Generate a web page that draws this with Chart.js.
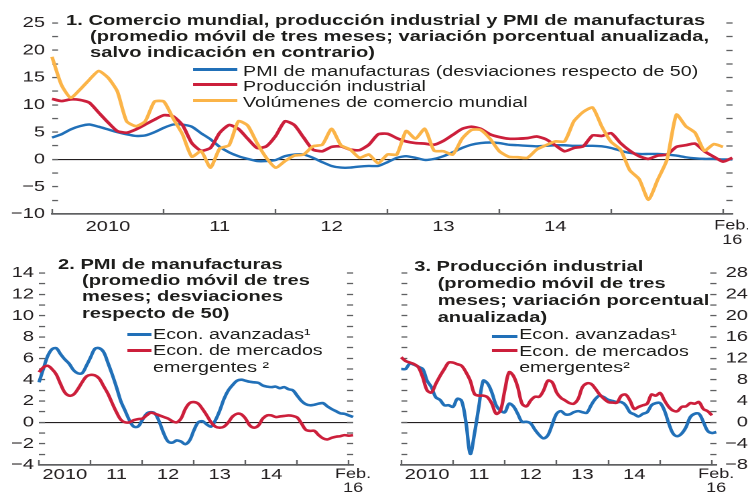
<!DOCTYPE html>
<html>
<head>
<meta charset="utf-8">
<script src="https://cdn.jsdelivr.net/npm/chart.js@4.4.1/dist/chart.umd.min.js"></script>
<style>
  html, body { margin: 0; padding: 0; background: #fff; }
  body { width: 748px; height: 496px; overflow: hidden; position: relative; }
  /* the reference is stretched sideways, so everything is laid out narrow and widened */
  #stage { position: absolute; left: 0; top: 0; width: 558px; height: 496px;
           transform: scaleX(1.3405); transform-origin: 0 0;
           font-family: "Liberation Sans", Arial, sans-serif; color: #1d1d1b; }
  canvas { position: absolute; }
  .t { position: absolute; white-space: nowrap; font-weight: bold; font-size: 15px; line-height: 16.35px; }
  .lg { position: absolute; white-space: nowrap; font-size: 14.7px; line-height: 16px; }
  .sw { position: absolute; height: 3px; }
</style>
</head>
<body>
<div id="stage">
  <canvas id="c1" width="558" height="250" style="left:0;top:0"></canvas>
  <canvas id="c2" width="279" height="256" style="left:0;top:240px"></canvas>
  <canvas id="c3" width="279" height="256" style="left:279px;top:240px"></canvas>

  <div class="t" style="left:49.3px;top:11.5px">1. Comercio mundial, producción industrial y PMI de manufacturas</div>
  <div class="t" style="left:67.2px;top:27.8px">(promedio móvil de tres meses; variación porcentual anualizada,</div>
  <div class="t" style="left:67.2px;top:44.1px">salvo indicación en contrario)</div>
  <div class="sw" style="left:144.3px;top:67.5px;width:32.3px;background:#2170b8"></div>
  <div class="sw" style="left:144.3px;top:83px;width:32.3px;background:#cc1f3b"></div>
  <div class="sw" style="left:144.3px;top:98.5px;width:32.3px;background:#fbb448"></div>
  <div class="lg" style="left:181.3px;top:63px">PMI de manufacturas (desviaciones respecto de 50)</div>
  <div class="lg" style="left:181.3px;top:78.4px">Producción industrial</div>
  <div class="lg" style="left:181.3px;top:93.7px">Volúmenes de comercio mundial</div>

  <div class="t" style="left:43.3px;top:255.5px">2. PMI de manufacturas</div>
  <div class="t" style="left:61.2px;top:271.7px">(promedio móvil de tres</div>
  <div class="t" style="left:61.2px;top:288px">meses; desviaciones</div>
  <div class="t" style="left:61.2px;top:304.5px">respecto de 50)</div>
  <div class="sw" style="left:94.8px;top:333px;width:18.6px;background:#2170b8"></div>
  <div class="sw" style="left:94.8px;top:348.8px;width:18.6px;background:#cc1f3b"></div>
  <div class="lg" style="left:114.2px;top:325.5px">Econ. avanzadas¹</div>
  <div class="lg" style="left:114.2px;top:342.2px">Econ. de mercados</div>
  <div class="lg" style="left:114.2px;top:359px">emergentes ²</div>

  <div class="t" style="left:309px;top:257.5px">3. Producción industrial</div>
  <div class="t" style="left:326.5px;top:274.5px">(promedio móvil de tres</div>
  <div class="t" style="left:326.5px;top:292px">meses; variación porcentual</div>
  <div class="t" style="left:326.5px;top:309px">anualizada)</div>
  <div class="sw" style="left:367.2px;top:334.5px;width:18.6px;background:#2170b8"></div>
  <div class="sw" style="left:367.2px;top:348.8px;width:18.6px;background:#cc1f3b"></div>
  <div class="lg" style="left:387.3px;top:326.2px">Econ. avanzadas¹</div>
  <div class="lg" style="left:387.3px;top:342.7px">Econ. de mercados</div>
  <div class="lg" style="left:387.3px;top:359.2px">emergentes²</div>
</div>

<script>
// monthly, Jan 2010 .. Feb 2016
const months = []
for (let yr = 2010; yr <= 2016; yr++) {
  for (let m = 1; m <= 12; m++) {
    if (yr === 2016 && m > 2) break
    months.push(yr + '-' + String(m).padStart(2, '0'))
  }
}

const xLabelAt = { 6: '2010', 18: '11', 30: '12', 42: '13', 54: '14', 73: ['Feb.', '16'] }
const yearTicks = [0, 12, 24, 36, 48, 60, 72]

// panel 1
const pmiWorld = [4.0, 4.6, 5.5, 6.1, 6.4, 6.0, 5.5, 5.0, 4.6, 4.3,
  4.4, 5.0, 5.8, 6.4, 6.4, 6.0, 4.8, 3.7, 2.3, 1.3,
  0.6, 0.1, -0.3, -0.3, -0.1, 0.6, 0.9, 0.9, 0.3, -0.5,
  -1.2, -1.5, -1.5, -1.3, -1.2, -1.2, -0.5, 0.3, 0.6, 0.3,
  -0.1, 0.1, 0.6, 1.3, 2.1, 2.7, 3.0, 3.1, 3.0, 2.7,
  2.6, 2.5, 2.4, 2.5, 2.6, 2.6, 2.5, 2.5, 2.5, 2.4,
  2.1, 1.6, 1.2, 1.0, 1.0, 1.0, 0.9, 0.7, 0.4, 0.2,
  0.1, 0.1, 0.0, 0.0]
const ipWorld = [11.1, 10.7, 11.0, 10.9, 10.4, 8.6, 6.8, 5.2, 4.9, 5.5,
  6.4, 7.3, 8.1, 7.9, 6.3, 3.0, 1.6, 2.1, 4.9, 6.3,
  5.6, 3.8, 2.1, 2.4, 4.3, 7.0, 6.3, 4.0, 1.8, 1.5,
  2.3, 2.4, 1.8, 1.7, 2.7, 4.6, 4.7, 3.9, 3.3, 3.0,
  2.9, 2.7, 3.4, 4.5, 5.6, 6.0, 5.6, 4.6, 4.1, 3.8,
  3.8, 3.9, 4.2, 3.7, 2.6, 1.5, 2.1, 2.4, 4.4, 4.3,
  4.8, 3.0, 1.6, 0.6, 0.1, 0.7, 0.9, 2.3, 2.6, 2.9,
  1.5, 0.5, -0.4, 0.3]
const tradeWorld = [18.8, 13.7, 11.3, 12.8, 14.6, 16.2, 15.0, 12.5, 7.0, 6.1,
  7.0, 10.6, 10.6, 7.5, 4.6, 0.5, 1.5, -1.5, 2.0, 2.6,
  7.0, 6.2, 3.0, 0.3, -1.5, -0.3, 0.7, 0.9, 2.4, 2.7,
  5.6, 2.6, 1.8, 0.3, 0.9, -0.7, 0.9, 0.9, 5.2, 3.8,
  5.6, 1.6, 1.5, 0.9, 3.8, 5.4, 5.4, 3.8, 1.5, 0.5,
  0.4, 0.3, 1.8, 2.6, 3.3, 3.3, 7.0, 8.7, 9.5, 6.0,
  3.2, 1.8, -2.0, -3.6, -7.4, -3.7, 0.0, 8.2, 6.1, 4.9,
  1.6, 2.8, 2.3, null]

// panel 2
const pmiAdv = [3.75, 5.0, 6.2, 6.85, 6.95, 6.4, 5.9, 5.5, 4.9, 4.6,
  4.6, 5.3, 6.1, 6.9, 6.95, 6.6, 5.6, 4.5, 3.3, 2.0,
  1.1, 0.2, -0.4, -0.4, 0.2, 0.8, 0.95, 0.8, 0.0, -1.05,
  -1.8, -1.9, -1.7, -1.8, -2.05, -1.7, -0.75, 0.0, 0.1, -0.2,
  -0.4, 0.2, 1.1, 2.2, 3.0, 3.5, 3.9, 4.0, 3.9, 3.8,
  3.75, 3.7, 3.45, 3.35, 3.3, 3.35, 3.2, 3.3, 3.1, 3.0,
  2.5, 2.0, 1.7, 1.6, 1.65, 1.75, 1.8, 1.5, 1.25, 1.05,
  0.85, 0.8, 0.65, 0.5]
const pmiEme = [4.7, 5.15, 5.3, 5.0, 4.5, 3.6, 2.8, 2.5, 2.6, 3.1,
  3.75, 4.3, 4.45, 4.4, 4.1, 3.4, 2.7, 1.8, 0.95, 0.25,
  0.0, 0.0, 0.2, 0.3, 0.35, 0.65, 0.9, 0.8, 0.65, 0.5,
  0.35, 0.1, 0.0, 0.35, 1.25, 1.8, 1.9, 1.75, 1.25, 0.65,
  0.0, -0.4, -0.5, -0.4, 0.0, 0.55, 0.8, 0.75, 0.35, -0.3,
  -0.5, -0.3, 0.35, 0.65, 0.65, 0.5, 0.55, 0.6, 0.65, 0.6,
  0.45, -0.1, -0.7, -0.8, -0.8, -1.2, -1.5, -1.6, -1.45, -1.35,
  -1.3, -1.2, -1.25, -1.2]

// panel 3
const ipAdv = [10.0, 10.0, 11.0, 10.8, 10.4, 10.0, 7.8, 6.6, 4.7, 4.2,
  3.2, 3.2, 2.9, 4.4, 4.0, 0.0, -5.9, -2.0, 3.0, 7.8,
  7.3, 5.6, 3.2, 2.2, 1.9, 3.5, 3.0, 1.6, 0.1, 0.1,
  -0.2, -1.4, -2.4, -3.0, -2.4, -0.4, 1.6, 2.1, 1.5, 1.5,
  1.9, 2.1, 1.9, 1.8, 3.2, 4.4, 5.0, 4.7, 4.2, 4.0,
  3.8, 3.8, 3.2, 1.9, 1.5, 1.1, 1.6, 1.9, 3.2, 3.6,
  3.6, 2.2, -0.2, -2.1, -2.6, -2.1, -0.9, 1.0, 1.6, 1.6,
  0.1, -1.6, -2.0, -1.8]
const ipEme = [12.2, 11.5, 11.2, 10.9, 10.3, 8.4, 6.0, 5.6, 7.2, 8.7,
  10.0, 11.2, 11.2, 10.9, 10.6, 9.4, 7.8, 5.3, 5.0, 5.0,
  4.7, 3.5, 1.6, 2.2, 6.0, 9.4, 8.7, 6.6, 3.5, 3.0,
  4.1, 4.8, 4.8, 6.0, 7.8, 7.5, 5.6, 4.6, 4.1, 3.6,
  3.5, 4.4, 6.6, 7.3, 7.2, 6.3, 5.2, 4.4, 3.8, 3.7,
  3.7, 5.0, 5.2, 4.1, 2.5, 2.9, 3.2, 3.5, 5.2, 5.0,
  5.5, 4.1, 2.9, 2.2, 2.1, 2.9, 3.0, 3.6, 3.5, 3.8,
  2.5, 2.1, 1.3, null]

const BLUE = '#2170b8', RED = '#cc1f3b', ORANGE = '#fbb448'
const TXT = '#231f20', GREY = '#5f6062', NONE = 'rgba(0,0,0,0)'
const TICK = 4.5

Chart.defaults.font.family = '"Liberation Sans", Arial, sans-serif'
Chart.defaults.font.size = 15
Chart.defaults.color = TXT

function fmt(v) {
  return v < 0 ? '\u2212' + Math.abs(v) : String(v)
}

function isMajor(v, step) {
  return Math.abs(v / step - Math.round(v / step)) < 1e-6
}

function makeChart(id, o) {
  const other = o.yPos === 'left' ? 'right' : 'left'
  const tickVal = c => (c.tick ? c.tick.value : NaN)
  return new Chart(document.getElementById(id), {
    type: 'line',
    data: {
      labels: months,
      datasets: o.series.map(s => ({
        data: s.data, borderColor: s.color, borderWidth: s.width,
        pointRadius: 0, tension: o.tension, fill: false, yAxisID: 'y'
      }))
    },
    options: {
      responsive: false, animation: false, devicePixelRatio: 2,
      layout: { padding: o.pad },
      plugins: { legend: { display: false }, tooltip: { enabled: false } },
      scales: {
        x: {
          type: 'category', offset: false,
          // negative tick length puts the year ticks inside the plot
          grid: { display: true, drawOnChartArea: false, drawTicks: true, tickLength: -5,
            color: NONE, tickWidth: 1.2,
            tickColor: c => yearTicks.includes(c.index) ? GREY : NONE },
          border: { display: true, color: GREY, width: 1.6 },
          ticks: {
            autoSkip: false, maxRotation: 0, minRotation: 0, padding: o.xPad + 5,
            font: c => ({ size: c.index === 73 ? 13.5 : 15, lineHeight: 1.05 }),
            callback: (v, i) => xLabelAt[i] || ''
          },
          afterFit: s => { s.height = o.xH; s.paddingLeft = 0; s.paddingRight = 0 }
        },
        y: {
          type: 'linear', position: o.yPos, min: o.min, max: o.max,
          border: { display: false },
          grid: {
            drawOnChartArea: true, drawTicks: true, tickLength: -TICK, tickWidth: 1.3,
            color: c => tickVal(c) === 0 ? TXT : (tickVal(c) === o.min ? GREY : NONE),
            lineWidth: c => tickVal(c) === o.min ? 1.6 : 1.1,
            tickColor: c => tickVal(c) === o.min ? NONE : GREY
          },
          ticks: {
            stepSize: o.minor, autoSkip: false, padding: o.yPad + TICK,
            crossAlign: o.yPos === 'right' ? 'far' : 'near',
            callback: v => isMajor(v, o.step) ? fmt(v) : ''
          },
          afterFit: s => { s.width = o.yW }
        },
        y2: {
          type: 'linear', axis: 'y', position: other, min: o.min, max: o.max, display: true,
          border: { display: false },
          grid: {
            drawOnChartArea: false, drawTicks: true, tickLength: -TICK, tickWidth: 1.3,
            color: NONE,
            tickColor: c => tickVal(c) === o.min ? NONE : GREY
          },
          ticks: { display: false, stepSize: o.minor, autoSkip: false },
          afterFit: s => { s.width = 0 }
        }
      }
    }
  })
}

makeChart('c1', {
  series: [
    { data: tradeWorld, color: ORANGE, width: 2.7 },
    { data: ipWorld, color: RED, width: 2.7 },
    { data: pmiWorld, color: BLUE, width: 2.4 }
  ],
  tension: 0.2, min: -10, max: 25, step: 5, minor: 2.5,
  pad: { left: 0, right: 11.7, top: 23, bottom: 0 },
  yPos: 'left', yW: 38.8, yPad: 5.2, xH: 36, xPad: 4.8
})
makeChart('c2', {
  series: [ { data: pmiEme, color: RED, width: 2.6 }, { data: pmiAdv, color: BLUE, width: 2.6 } ],
  tension: 0.35, min: -4, max: 14, step: 2, minor: 1,
  pad: { left: 0, right: 15.6, top: 33, bottom: 0 },
  yPos: 'left', yW: 29.1, yPad: 3.7, xH: 31, xPad: 2.1
})
makeChart('c3', {
  series: [ { data: ipEme, color: RED, width: 2.6 }, { data: ipAdv, color: BLUE, width: 2.6 } ],
  tension: 0.35, min: -8, max: 28, step: 4, minor: 2,
  pad: { left: 20.3, right: 0, top: 33, bottom: 0 },
  yPos: 'right', yW: 23.7, yPad: -2, xH: 31, xPad: 2.1
})
</script>
</body>
</html>
